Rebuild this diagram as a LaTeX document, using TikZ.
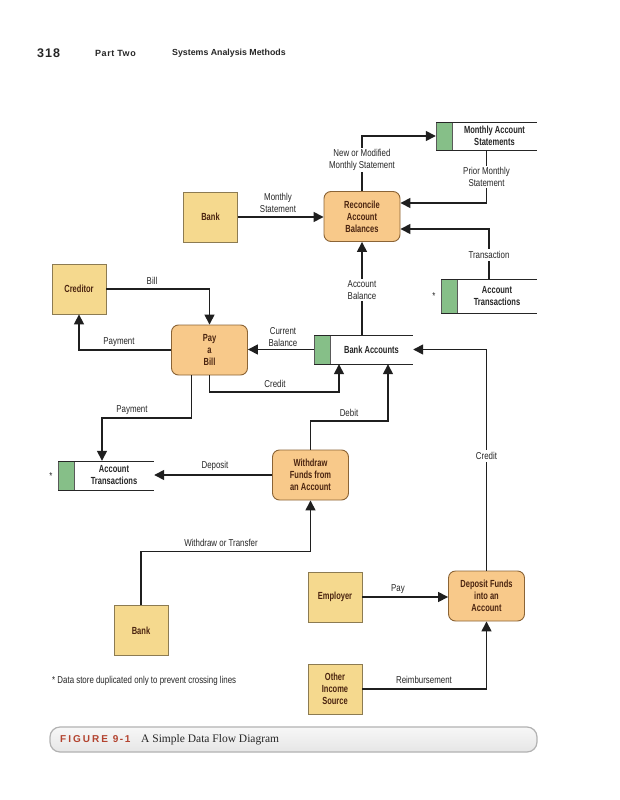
\documentclass[tikz,border=0pt]{standalone}
\usepackage{fontspec}
\setmainfont{Liberation Sans}
\newfontfamily\cond{Liberation Sans}[FakeStretch=0.73]
\newfontfamily\condl{Liberation Sans}[FakeStretch=0.79]
\newfontfamily\capserif{Liberation Serif}
\usetikzlibrary{arrows.meta,calc}
\definecolor{entfill}{HTML}{F5D98E}
\definecolor{entdraw}{HTML}{8C7B52}
\definecolor{procfill}{HTML}{F8C98A}
\definecolor{procdraw}{HTML}{8B6436}
\definecolor{stgreen}{HTML}{86BF88}
\definecolor{boxtext}{HTML}{4A2410}
\definecolor{figred}{HTML}{B3432F}
\tikzset{
  entity/.style={draw=entdraw, line width=0.8pt, fill=entfill, minimum width=54pt, minimum height=50pt, inner sep=1pt, align=center, font=\cond\bfseries\fontsize{10.3}{12}\selectfont, text=boxtext},
  process/.style={draw=procdraw, line width=0.9pt, fill=procfill, rounded corners=7pt, minimum width=76pt, minimum height=50pt, inner sep=1pt, align=center, font=\cond\bfseries\fontsize{10.3}{12}\selectfont, text=boxtext},
  storetext/.style={align=center, inner sep=1pt, font=\cond\bfseries\fontsize{10.3}{12}\selectfont, text=black!85},
  lbl/.style={font=\condl\fontsize{10}{11.5}\selectfont, align=center, inner sep=1pt, text=black!85},
  cut/.style={lbl, fill=white, inner sep=2pt},
  flow/.style={draw=black!88, line width=1.5pt, -{Triangle[length=10pt,width=10pt]}},
}
\newcommand\dstore[6]{%
  \node[inner sep=0pt, minimum width={(#4-#2)*1pt}, minimum height={(#5-#3)*1pt}] (#1) at ({(#2+#4)/2},{(#3+#5)/2}) {};
  \filldraw[fill=stgreen, draw=black!65, line width=0.6pt] (#2,#3) rectangle ({#2+16},#5);
  \draw[line width=0.9pt, black!85] (#2,#3) -- (#4,#3) (#2,#5) -- (#4,#5);
  \node[storetext] (#1-t) at ({(#2+16+#4)/2},{(#3+#5)/2}) {#6};
}
\begin{document}
\begin{tikzpicture}[x=1pt,y=-1pt]
\fill[white] (0,0) rectangle (619,800);
\useasboundingbox (0,0) rectangle (619,800);
% header
\node[font=\bfseries\fontsize{12.5}{14}\selectfont\addfontfeature{LetterSpace=8}, anchor=west, inner sep=0pt, text=black!85] (pg) at (37,53) {318};
\node[font=\bfseries\fontsize{9}{10}\selectfont\addfontfeature{LetterSpace=6}, anchor=west, inner sep=0pt, text=black!85] (part) at (95,53) {Part Two};
\node[font=\bfseries\fontsize{8.8}{10}\selectfont, anchor=west, inner sep=0pt, text=black!85] (sect) at (172,53) {Systems Analysis Methods};

% nodes
\node[entity] (bank1) at (210.5,217) {Bank};
\node[process] (reconcile) at (362,216.5) {Reconcile\\Account\\Balances};
\dstore{mstore}{436}{122}{537}{150}{Monthly Account\\Statements}
\dstore{tstore}{441}{279}{537}{313}{Account\\Transactions}
\node[lbl] (ast1) at (434,296) {*};
\node[entity] (creditor) at (79,289) {Creditor};
\node[process] (paybill) at (209.5,350) {Pay\\a\\Bill};
\dstore{bankacc}{314}{335}{413}{364}{Bank Accounts}
\dstore{atstore}{58}{461}{154}{490}{Account\\Transactions}
\node[lbl] (ast2) at (51,476) {*};
\node[process] (withdraw) at (310.5,475) {Withdraw\\Funds from\\an Account};
\node[entity] (bank2) at (141,630.5) {Bank};
\node[entity] (employer) at (335,597) {Employer};
\node[process] (deposit) at (486.5,596) {Deposit Funds\\into an\\Account};
\node[entity] (other) at (335,689) {Other\\Income\\Source};

% coordinates
\coordinate (r1) at ($(reconcile.east)+(0,-13.5)$);
\coordinate (r2) at ($(reconcile.east)+(0,12.5)$);
\coordinate (c1) at (339,392);
\coordinate (p2a) at ($(paybill.south)+(-18,0)$);
\coordinate (p2b) at (102,418);
\coordinate (d1) at (388,421);
\coordinate (w1) at ($(withdraw.south)+(0,51)$);

% connectors
\draw[flow] (bank1.east) -- (reconcile.west |- bank1.east);
\draw[flow] (reconcile.north) |- (mstore.west);
\draw[flow] (mstore.south) |- (r1);
\draw[flow] (tstore.north) |- (r2);
\draw[flow] (creditor.east) -| (paybill.north);
\draw[flow] (paybill.west) -| (creditor.south);
\draw[flow] (bankacc.west) -- (paybill.east |- bankacc.west);
\draw[flow] (reconcile.south |- bankacc.north) -- (reconcile.south);
\draw[flow] (paybill.south) |- (c1) -- (c1 |- bankacc.south);
\draw[flow] (p2a) |- (p2b) -- (p2b |- atstore.north);
\draw[flow] (withdraw.west) -- (atstore.east |- withdraw.west);
\draw[flow] (withdraw.north) |- (d1) -- (d1 |- bankacc.south);
\draw[flow] (bank2.north) |- (w1) -- (withdraw.south);
\draw[flow] (employer.east) -- (deposit.west |- employer.east);
\draw[flow] (deposit.north) |- (bankacc.east);
\draw[flow] (other.east) -| (deposit.south);

% labels
\node[lbl] (l1) at (278,203) {Monthly\\Statement};
\node[cut] (l2) at (362,160) {New or Modified\\Monthly Statement};
\node[cut] (l3) at (486.5,177) {Prior Monthly\\Statement};
\node[cut] (l4) at (489,255) {Transaction};
\node[lbl] (l5) at (152,281) {Bill};
\node[lbl] (l6) at (119,342) {Payment};
\node[lbl] (l7) at (283,337) {Current\\Balance};
\node[cut] (l8) at (362,290) {Account\\Balance};
\node[lbl] (l9) at (275,384) {Credit};
\node[lbl] (l10) at (132,410) {Payment};
\node[lbl] (l11) at (215,466) {Deposit};
\node[lbl] (l12) at (349,413) {Debit};
\node[cut] (l13) at (486.5,456) {Credit};
\node[lbl] (l14) at (221,543) {Withdraw or Transfer};
\node[lbl] (l15) at (398,589) {Pay};
\node[lbl] (l16) at (424,680) {Reimbursement};
\node[lbl, anchor=west] (foot) at (51,681) {* Data store duplicated only to prevent crossing lines};

% caption bar
\node[draw=black!30, line width=1.2pt, top color=black!3, bottom color=black!10, rounded corners=10pt, minimum width=487pt, minimum height=25pt, inner sep=0pt] (capbar) at (293.5,739.5) {};
\node[anchor=west, inner sep=0pt, text=figred, font=\bfseries\fontsize{10}{11}\selectfont\addfontfeature{LetterSpace=20}] (fig) at (60,739.5) {FIGURE 9\,-\,1};
\node[anchor=west, inner sep=0pt, font=\capserif\fontsize{11.5}{13}\selectfont, text=black!85] (captxt) at (141,739.5) {A Simple Data Flow Diagram};
\end{tikzpicture}
\end{document}
